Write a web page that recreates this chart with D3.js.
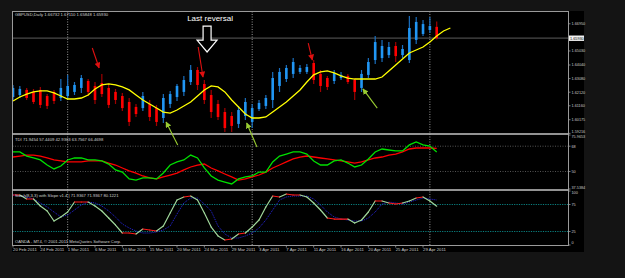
<html lang="en">
<head>
<meta charset="UTF-8">
<title>GBPUSD Daily</title>
<script src="https://d3js.org/d3.v7.min.js"></script>
<style>
    body { margin: 0; background: #141414; overflow: hidden; }
    text { font-family: "Liberation Sans", Arial, sans-serif; }
</style>
</head>
<body>
<svg id="chart" width="625" height="278"></svg>
<script>
    // ---- data ----
    var dateLabels = ["20 Feb 2011", "24 Feb 2011", "1 Mar 2011", "6 Mar 2011", "10 Mar 2011", "15 Mar 2011",
        "20 Mar 2011", "24 Mar 2011", "29 Mar 2011", "3 Apr 2011", "7 Apr 2011", "11 Apr 2011",
        "16 Apr 2011", "20 Apr 2011", "25 Apr 2011", "29 Apr 2011"];
    var dateBars = [0, 4, 8, 12, 16, 20, 24, 28, 32, 36, 40, 44, 48, 52, 56, 60];
    var monthBars = [8, 35, 61];   // 1 Mar, 1 Apr, 1 May

    var openP = [1.6178, 1.6192, 1.6228, 1.6214, 1.6228, 1.6185, 1.6214, 1.6171, 1.6185, 1.6214,
        1.6242, 1.6291, 1.6256, 1.6277, 1.6242, 1.6214, 1.6185, 1.6143, 1.6108, 1.6100,
        1.6129, 1.6100, 1.6030, 1.6129, 1.6178, 1.6214, 1.6284, 1.6369, 1.6270, 1.6192,
        1.6129, 1.6072, 1.6044, 1.5988, 1.6044, 1.6002, 1.6093, 1.6115, 1.6157, 1.6256,
        1.6305, 1.6341, 1.6355, 1.6355, 1.6418, 1.6341, 1.6312, 1.6291, 1.6312, 1.6327,
        1.6298, 1.6242, 1.6334, 1.6439, 1.6453, 1.6474, 1.6538, 1.6474, 1.6439, 1.6581,
        1.6623, 1.6651, 1.66732];
    var highP = [1.6263, 1.6256, 1.6242, 1.6235, 1.6249, 1.6199, 1.6228, 1.6305, 1.6334, 1.6284,
        1.6334, 1.6305, 1.6284, 1.6341, 1.6270, 1.6235, 1.6207, 1.6171, 1.6129, 1.6214,
        1.6157, 1.6122, 1.6199, 1.6221, 1.6270, 1.6327, 1.6404, 1.6390, 1.6298, 1.6228,
        1.6157, 1.6100, 1.6072, 1.6115, 1.6171, 1.6129, 1.6157, 1.6192, 1.6355, 1.6383,
        1.6404, 1.6453, 1.6404, 1.6411, 1.6439, 1.6369, 1.6327, 1.6369, 1.6355, 1.6341,
        1.6312, 1.6369, 1.6453, 1.6609, 1.6581, 1.6566, 1.6566, 1.6545, 1.6750, 1.6743,
        1.6722, 1.6743, 1.67110];
    var lowP = [1.6157, 1.6171, 1.6157, 1.6129, 1.6100, 1.6093, 1.6129, 1.6150, 1.6164, 1.6192,
        1.6207, 1.6185, 1.6129, 1.6178, 1.6100, 1.6129, 1.6079, 1.5974, 1.6037, 1.6079,
        1.6009, 1.5974, 1.5995, 1.6100, 1.6150, 1.6185, 1.6263, 1.6228, 1.6129, 1.6030,
        1.6016, 1.5931, 1.5931, 1.5959, 1.6016, 1.5959, 1.6079, 1.6093, 1.6100, 1.6214,
        1.6284, 1.6312, 1.6341, 1.6341, 1.6270, 1.6214, 1.6228, 1.6270, 1.6298, 1.6270,
        1.6157, 1.6214, 1.6312, 1.6411, 1.6425, 1.6453, 1.6425, 1.6453, 1.6418, 1.6552,
        1.6609, 1.6630, 1.65848];
    var closeP = [1.6242, 1.6235, 1.6171, 1.6143, 1.6122, 1.6115, 1.6150, 1.6242, 1.6256, 1.6263,
        1.6312, 1.6214, 1.6157, 1.6199, 1.6122, 1.6157, 1.6100, 1.6002, 1.6058, 1.6185,
        1.6037, 1.6002, 1.6171, 1.6199, 1.6256, 1.6298, 1.6369, 1.6263, 1.6157, 1.6072,
        1.6037, 1.5959, 1.5974, 1.6086, 1.6143, 1.6100, 1.6136, 1.6171, 1.6312, 1.6355,
        1.6383, 1.6425, 1.6383, 1.6390, 1.6298, 1.6256, 1.6249, 1.6348, 1.6334, 1.6284,
        1.6214, 1.6341, 1.6425, 1.6566, 1.6538, 1.6531, 1.6467, 1.6517, 1.6665, 1.6708,
        1.6693, 1.6679, 1.65930];
    // yellow smoothed average (runs two bars past the last candle)
    var smooth = [1.6150, 1.6178, 1.6199, 1.6214, 1.6221, 1.6221, 1.6207, 1.6185, 1.6164, 1.6164,
        1.6171, 1.6192, 1.6235, 1.6263, 1.6270, 1.6263, 1.6249, 1.6228, 1.6192, 1.6157,
        1.6129, 1.6100, 1.6072, 1.6065, 1.6086, 1.6115, 1.6143, 1.6185, 1.6228, 1.6256,
        1.6249, 1.6214, 1.6157, 1.6108, 1.6058, 1.6030, 1.6030, 1.6037, 1.6072, 1.6108,
        1.6143, 1.6185, 1.6228, 1.6284, 1.6334, 1.6355, 1.6362, 1.6348, 1.6327, 1.6312,
        1.6305, 1.6305, 1.6305, 1.6305, 1.6319, 1.6362, 1.6404, 1.6446, 1.6489, 1.6510,
        1.6531, 1.6566, 1.6609, 1.6644, 1.6665];
    var bidPrice = 1.65930;
    var priceTicks = [1.66950, 1.65030, 1.64040, 1.63080, 1.62120, 1.61160, 1.60175, 1.59216];

    // TDI window
    var tdiGreen = [63.9, 63.9, 61.0, 59.6, 58.2, 54.6, 51.8, 53.9, 58.2, 59.6,
        59.6, 58.2, 58.2, 57.5, 55.3, 51.1, 49.6, 44.7, 43.9, 45.4,
        45.4, 44.7, 48.9, 54.6, 56.8, 58.2, 61.7, 59.6, 52.5, 46.8,
        43.9, 42.5, 41.1, 44.7, 46.1, 46.8, 49.6, 49.6, 56.8, 61.0,
        62.4, 63.9, 63.9, 62.4, 57.5, 54.6, 54.6, 57.5, 58.2, 56.0,
        53.2, 54.6, 58.9, 63.9, 66.0, 65.3, 64.6, 64.6, 68.9, 71.0,
        68.9, 68.1, 63.8];
    var tdiRed = [60.3, 61.0, 61.7, 61.7, 61.0, 59.6, 58.2, 57.5, 56.8, 56.8,
        56.8, 57.5, 57.5, 57.5, 56.0, 54.6, 52.5, 50.4, 48.9, 46.8,
        45.4, 44.7, 46.1, 47.5, 48.9, 51.1, 53.2, 54.6, 55.3, 52.5,
        50.4, 48.2, 46.1, 43.9, 44.7, 46.1, 47.5, 49.6, 52.5, 54.6,
        56.8, 58.9, 60.3, 61.0, 60.3, 59.6, 58.9, 58.2, 57.5, 56.8,
        56.0, 56.8, 58.2, 59.6, 60.3, 61.7, 62.4, 63.9, 66.0, 66.7,
        66.7, 66.7, 66.5];
    var tdiRange = [37.5384, 75.9653];
    var tdiLevels = [68, 50];

    // Stochastic window
    var stoMain = [92.6, 92.6, 85.2, 85.2, 72.2, 63.0, 44.4, 51.9, 61.1, 79.6,
        79.6, 79.6, 72.2, 63.0, 50.0, 37.0, 22.2, 22.2, 20.4, 29.6,
        27.8, 25.9, 35.2, 59.3, 83.3, 88.9, 90.7, 83.3, 59.3, 33.3,
        16.7, 9.3, 11.1, 20.4, 22.2, 33.3, 46.3, 70.4, 90.7, 88.9,
        94.4, 92.6, 92.6, 88.9, 77.8, 64.8, 50.0, 48.1, 48.1, 48.1,
        40.7, 46.3, 61.1, 81.5, 81.5, 77.8, 75.9, 77.8, 81.5, 87.0,
        88.9, 81.5, 71.9];
    var stoSignal = [92.6, 90.7, 88.9, 85.2, 77.8, 70.4, 61.1, 51.9, 55.6, 64.8,
        74.1, 79.6, 77.8, 72.2, 63.0, 51.9, 38.9, 31.5, 25.9, 22.2,
        22.2, 24.1, 27.8, 35.2, 57.4, 77.8, 87.0, 87.0, 75.9, 63.0,
        35.2, 20.4, 13.0, 13.0, 16.7, 22.2, 31.5, 46.3, 64.8, 83.3,
        88.9, 90.7, 90.7, 90.7, 85.2, 74.1, 61.1, 51.9, 48.1, 46.3,
        44.4, 44.4, 50.0, 61.1, 75.9, 79.6, 77.8, 75.9, 79.6, 83.3,
        87.0, 85.2, 83.3];
    var stoLevels = [75, 25];
    var stoTicks = [100, 75, 25, 0];

    // annotations: [fromBar, fromPrice, toBar, toPrice]
    var redArrows = [[11.6, 1.6524, 12.6, 1.6383], [27.1, 1.6531, 27.8, 1.6319], [43.2, 1.6559, 43.8, 1.6439]];
    var greenArrows = [[24.1, 1.5839, 22.4, 1.6002], [35.7, 1.5825, 34.2, 1.5995], [53.3, 1.6100, 51.2, 1.6235]];
    var bigArrow = { bar: 28.4, top: 1.6679, tip: 1.6496 };

    // ---- layout ----
    const svg = d3.select("svg#chart");
    const left = 12.5, right = 568.5;
    const mainTop = 11.5, mainBot = 134, tdiBot = 190, stoBot = 245.5;

    const x = d3.scaleLinear().domain([0, 62]).range([13, 436.7]);
    const yMain = d3.scaleLinear().domain([1.59169, 1.67781]).range([134, 12]);
    const yTdi = d3.scaleLinear().domain(tdiRange).range([189, 135]);
    const ySto = d3.scaleLinear().domain([0, 100]).range([245, 191]);

    svg.append("rect").attr("width", 625).attr("height", 278).attr("fill", "#141414");
    svg.append("rect").attr("x", 12).attr("y", 11).attr("width", 572).attr("height", 241).attr("fill", "#000");

    const defs = svg.append("defs");
    [["main", mainTop, mainBot], ["tdi", mainBot, tdiBot], ["sto", tdiBot, stoBot]].forEach(function (p) {
        defs.append("clipPath").attr("id", "clip-" + p[0])
            .append("rect").attr("x", left).attr("y", p[1]).attr("width", right - left).attr("height", p[2] - p[1]);
    });
    function marker(id, col) {
        defs.append("marker").attr("id", id)
            .attr("viewBox", "0 0 10 10").attr("refX", 9).attr("refY", 5)
            .attr("markerUnits", "userSpaceOnUse").attr("markerWidth", 6).attr("markerHeight", 6)
            .attr("orient", "auto")
            .append("path").attr("d", "M0,0 L10,5 L0,10 Z").attr("fill", col);
    }
    marker("ar-red", "#e01010");
    marker("ar-green", "#9acd32");

    // bid line
    svg.append("line")
        .attr("x1", left).attr("x2", right)
        .attr("y1", yMain(bidPrice)).attr("y2", yMain(bidPrice))
        .attr("stroke", "#4a4a4a").attr("stroke-width", 1.2);

    // level lines
    svg.selectAll(".tdi-level").data(tdiLevels).join("line").attr("class", "tdi-level")
        .attr("x1", left).attr("x2", right)
        .attr("y1", d => yTdi(d)).attr("y2", d => yTdi(d))
        .attr("stroke", "#6a6a6a").attr("stroke-width", 0.8).attr("stroke-dasharray", "1,1.5");
    svg.selectAll(".sto-level").data(stoLevels).join("line").attr("class", "sto-level")
        .attr("x1", left).attr("x2", right)
        .attr("y1", d => ySto(d)).attr("y2", d => ySto(d))
        .attr("stroke", "#0b8f8f").attr("stroke-width", 0.9).attr("stroke-dasharray", "1.2,1.2");

    // month separators
    svg.selectAll(".sep").data(monthBars).join("line").attr("class", "sep")
        .attr("x1", d => x(d)).attr("x2", d => x(d))
        .attr("y1", mainTop).attr("y2", stoBot)
        .attr("stroke", "#bdbdbd").attr("stroke-width", 0.8).attr("stroke-dasharray", "1,1.5");

    // candles
    const bars = d3.range(openP.length).map(function (i) {
        return { i: i, o: openP[i], h: highP[i], l: lowP[i], c: closeP[i] };
    });
    const gMain = svg.append("g").attr("clip-path", "url(#clip-main)");
    gMain.selectAll(".wick").data(bars).join("line").attr("class", "wick")
        .attr("x1", d => x(d.i)).attr("x2", d => x(d.i))
        .attr("y1", d => yMain(d.h)).attr("y2", d => yMain(d.l))
        .attr("stroke", d => d.c >= d.o ? "#1a6fbf" : "#a00000").attr("stroke-width", 1.2);
    gMain.selectAll(".body").data(bars).join("rect").attr("class", "body")
        .attr("x", d => x(d.i) - 1.3).attr("width", 2.6)
        .attr("y", d => yMain(Math.max(d.o, d.c)))
        .attr("height", d => Math.max(1, Math.abs(yMain(d.o) - yMain(d.c))))
        .attr("fill", d => d.c >= d.o ? "#2196f3" : "#ff0000");

    gMain.append("path").datum(smooth)
        .attr("d", d3.line().x((d, i) => x(i)).y(d => yMain(d)))
        .attr("fill", "none").attr("stroke", "#ffff00").attr("stroke-width", 1.3);

    // TDI lines
    const gTdi = svg.append("g").attr("clip-path", "url(#clip-tdi)");
    const tdiLine = d3.line().x((d, i) => x(i)).y(d => yTdi(d));
    gTdi.append("path").datum(tdiRed).attr("d", tdiLine)
        .attr("fill", "none").attr("stroke", "#ff0000").attr("stroke-width", 1.3);
    gTdi.append("path").datum(tdiGreen).attr("d", tdiLine)
        .attr("fill", "none").attr("stroke", "#00e000").attr("stroke-width", 1.3);

    // Stochastic lines
    const gSto = svg.append("g").attr("clip-path", "url(#clip-sto)");
    gSto.append("path").datum(stoSignal)
        .attr("d", d3.line().x((d, i) => x(i)).y(d => ySto(d)))
        .attr("fill", "none").attr("stroke", "#2626e0").attr("stroke-width", 1).attr("stroke-dasharray", "1,1");
    const segs = d3.range(stoMain.length - 1);
    gSto.selectAll(".sto-seg").data(segs).join("line").attr("class", "sto-seg")
        .attr("x1", i => x(i)).attr("x2", i => x(i + 1))
        .attr("y1", i => ySto(stoMain[i])).attr("y2", i => ySto(stoMain[i + 1]))
        .attr("stroke", i => Math.abs(stoMain[i + 1] - stoMain[i]) < 3 ? "#ff1a1a" : "#9fd69a")
        .attr("stroke-width", 1.2).attr("stroke-linecap", "round");

    // frames
    const frame = svg.append("g").attr("fill", "none");
    frame.append("rect").attr("x", left).attr("y", mainTop).attr("width", right - left).attr("height", stoBot - mainTop)
        .attr("stroke", "#9a9a9a").attr("stroke-width", 1);
    [mainBot, tdiBot].forEach(function (yy) {
        frame.append("line").attr("x1", left).attr("x2", right).attr("y1", yy).attr("y2", yy)
            .attr("stroke", "#c4c4c4").attr("stroke-width", 1.6);
    });

    // right-hand scales
    function axisLabels(cls, values, scale, top, bot, fmt) {
        const g = svg.append("g");
        g.selectAll("." + cls).data(values).join("line")
            .attr("x1", right).attr("x2", right + 2)
            .attr("y1", d => scale(d)).attr("y2", d => scale(d))
            .attr("stroke", "#9a9a9a").attr("stroke-width", 0.8);
        g.selectAll("." + cls + "-t").data(values).join("text")
            .attr("x", right + 3)
            .attr("y", d => Math.min(bot - 2.5, Math.max(top + 2.5, scale(d))) + 1.4)
            .attr("font-size", 3.8).attr("fill", "#c8c8c8")
            .text(fmt);
    }
    axisLabels("pt", priceTicks, yMain, mainTop, mainBot, d => d.toFixed(5));
    axisLabels("tt", [tdiRange[1]].concat(tdiLevels).concat([tdiRange[0]]), yTdi, mainBot, tdiBot,
        d => (d === tdiRange[0] || d === tdiRange[1]) ? d.toFixed(4) : d);
    axisLabels("st", stoTicks, ySto, tdiBot, stoBot, d => d);

    svg.append("rect").attr("x", right + 0.5).attr("y", yMain(bidPrice) - 2.7)
        .attr("width", 15).attr("height", 5.4).attr("fill", "#f2f2f2");
    svg.append("text").attr("x", right + 1.5).attr("y", yMain(bidPrice) + 1.4)
        .attr("font-size", 3.8).attr("fill", "#000").text(bidPrice.toFixed(5));

    // date axis
    svg.selectAll(".dt").data(dateBars).join("line").attr("class", "dt")
        .attr("x1", d => x(d)).attr("x2", d => x(d)).attr("y1", stoBot).attr("y2", stoBot + 2)
        .attr("stroke", "#9a9a9a").attr("stroke-width", 0.8);
    svg.selectAll(".dl").data(dateBars).join("text").attr("class", "dl")
        .attr("x", d => x(d)).attr("y", 251)
        .attr("font-size", 4.3).attr("fill", "#c8c8c8")
        .text((d, i) => dateLabels[i]);

    // window captions
    function caption(txt, yy) {
        svg.append("text").attr("x", 15).attr("y", yy)
            .attr("font-size", 4.2).attr("fill", "#d0d0d0").text(txt);
    }
    caption("GBPUSD,Daily  1.66732 1.67110 1.65848 1.65930", 15.8);
    caption("TDI 71.9454 57.4409 42.9363 63.7567 66.4698", 140.6);
    caption("Stoch(8,3,3) with Slope v1.4 | 71.9367 71.9367 80.1221", 196.6);
    caption("OANDA - MT4, \u00a9 2001-2011 MetaQuotes Software Corp.", 242.6);

    // annotations
    svg.selectAll(".red-ar").data(redArrows).join("line").attr("class", "red-ar")
        .attr("x1", d => x(d[0])).attr("y1", d => yMain(d[1]))
        .attr("x2", d => x(d[2])).attr("y2", d => yMain(d[3]))
        .attr("stroke", "#e01010").attr("stroke-width", 1.1).attr("marker-end", "url(#ar-red)");
    svg.selectAll(".green-ar").data(greenArrows).join("line").attr("class", "green-ar")
        .attr("x1", d => x(d[0])).attr("y1", d => yMain(d[1]))
        .attr("x2", d => x(d[2])).attr("y2", d => yMain(d[3]))
        .attr("stroke", "#9acd32").attr("stroke-width", 1.1).attr("marker-end", "url(#ar-green)");

    const ax = x(bigArrow.bar), aTop = yMain(bigArrow.top), aTip = yMain(bigArrow.tip);
    const neck = aTop + (aTip - aTop) * 0.54;
    svg.append("path")
        .attr("d", "M" + (ax - 4) + "," + aTop + " L" + (ax + 4) + "," + aTop + " L" + (ax + 4) + "," + neck +
            " L" + (ax + 10) + "," + neck + " L" + ax + "," + aTip + " L" + (ax - 10) + "," + neck +
            " L" + (ax - 4) + "," + neck + " Z")
        .attr("fill", "#000").attr("stroke", "#ffffff").attr("stroke-width", 1.2).attr("stroke-linejoin", "miter");
    svg.append("text").attr("x", ax + 3).attr("y", aTop - 5)
        .attr("text-anchor", "middle").attr("font-size", 8).attr("fill", "#ffffff")
        .text("Last reversal");
</script>
</body>
</html>
